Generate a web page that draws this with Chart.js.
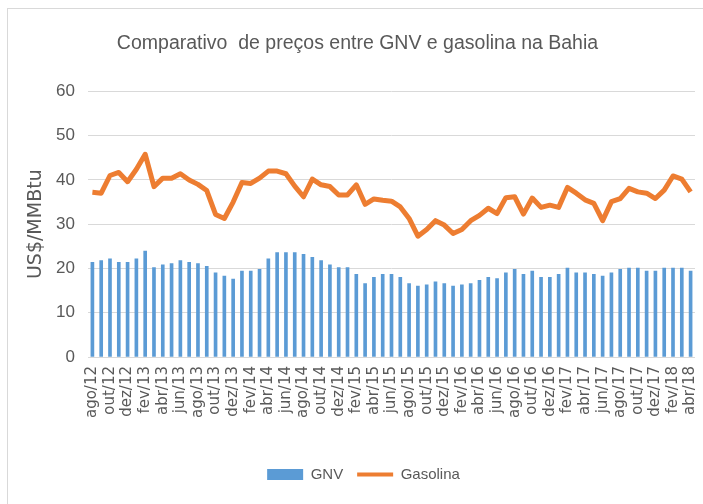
<!DOCTYPE html>
<html>
<head>
<meta charset="utf-8">
<script src="https://cdn.jsdelivr.net/npm/chart.js@4.4.1/dist/chart.umd.min.js"></script>
<style>
  html, body { margin: 0; padding: 0; background: #fff; }
  body { width: 703px; height: 504px; overflow: hidden; position: relative; }
  .moldura { position: absolute; left: 7px; top: 8px; width: 900px; height: 700px; border: 1px solid #d9d9d9; box-sizing: border-box; }
  .grafico { position: absolute; left: 0; top: 0; width: 703px; height: 504px; }
</style>
</head>
<body>
<div class="moldura"></div>
<div class="grafico"><canvas id="precosChart" width="703" height="504"></canvas></div>
<script>
// Preços médios mensais na Bahia, US$/MMBtu (ago/12 a abr/18)
const meses = [
  'ago/12', 'set/12', 'out/12', 'nov/12', 'dez/12',
  'jan/13', 'fev/13', 'mar/13', 'abr/13', 'mai/13', 'jun/13', 'jul/13', 'ago/13', 'set/13', 'out/13', 'nov/13', 'dez/13',
  'jan/14', 'fev/14', 'mar/14', 'abr/14', 'mai/14', 'jun/14', 'jul/14', 'ago/14', 'set/14', 'out/14', 'nov/14', 'dez/14',
  'jan/15', 'fev/15', 'mar/15', 'abr/15', 'mai/15', 'jun/15', 'jul/15', 'ago/15', 'set/15', 'out/15', 'nov/15', 'dez/15',
  'jan/16', 'fev/16', 'mar/16', 'abr/16', 'mai/16', 'jun/16', 'jul/16', 'ago/16', 'set/16', 'out/16', 'nov/16', 'dez/16',
  'jan/17', 'fev/17', 'mar/17', 'abr/17', 'mai/17', 'jun/17', 'jul/17', 'ago/17', 'set/17', 'out/17', 'nov/17', 'dez/17',
  'jan/18', 'fev/18', 'mar/18', 'abr/18'
];

const gnv = [
  21.4, 21.8, 22.2, 21.4, 21.4,
  22.2, 23.9, 20.2, 20.8, 21.1, 21.8, 21.4, 21.1, 20.5, 19.0, 18.3, 17.6,
  19.4, 19.4, 19.8, 22.2, 23.6, 23.6, 23.6, 23.2, 22.5, 21.8, 20.8, 20.2,
  20.2, 18.7, 16.6, 18.0, 18.7, 18.7, 18.0, 16.6, 16.0, 16.3, 17.0, 16.6,
  16.0, 16.3, 16.6, 17.3, 18.0, 17.7, 19.0, 19.8, 18.7, 19.4, 18.0, 18.0,
  18.7, 20.1, 19.0, 19.0, 18.7, 18.3, 19.0, 19.8, 20.1, 20.1, 19.4, 19.4,
  20.1, 20.1, 20.1, 19.4
];

const gasolina = [
  37.2, 37.0, 41.0, 41.7, 39.6,
  42.4, 45.8, 38.5, 40.4, 40.4, 41.4, 40.0, 39.0, 37.6, 32.2, 31.3, 35.0,
  39.4, 39.2, 40.4, 42.0, 42.0, 41.4, 38.6, 36.2, 40.2, 38.9, 38.5, 36.6,
  36.6, 38.9, 34.5, 35.7, 35.4, 35.2, 33.9, 31.3, 27.3, 28.8, 30.8, 29.8,
  27.9, 28.8, 30.8, 32.0, 33.6, 32.4, 36.0, 36.2, 32.3, 35.9, 33.8, 34.3,
  33.8, 38.3, 37.0, 35.5, 34.7, 30.8, 35.1, 35.8, 38.1, 37.3, 37.0, 35.8,
  37.7, 40.9, 40.2, 37.3
];

const eixoY = { min: 0, max: 60, passo: 10 };

const AZUL = '#5b9bd5';
const LARANJA = '#ed7d31';
const CINZA_TEXTO = '#595959';
const CINZA_GRADE = '#d9d9d9';
const SANS = "'Liberation Sans', Arial, sans-serif";
const LARGA = "'DejaVu Sans', sans-serif";

// título e legenda ficam um pouco à direita do centro, como no layout do Excel
const deslocaCaixas = {
  id: 'deslocaCaixas',
  afterLayout(chart) {
    const lg = chart.legend;
    if (lg) { lg.left += 16; lg.right += 16; }
    const tt = chart.titleBlock;
    if (tt) { tt.left += 10; tt.right += 10; }
  },
};

new Chart(document.getElementById('precosChart'), {
  data: {
    labels: meses,
    datasets: [
      {
        type: 'bar',
        label: 'GNV',
        data: gnv,
        backgroundColor: AZUL,
        borderWidth: 0,
        barThickness: 3,
        order: 2,
      },
      {
        type: 'line',
        label: 'Gasolina',
        data: gasolina,
        borderColor: LARANJA,
        backgroundColor: LARANJA,
        borderWidth: 5,
        pointRadius: 0,
        tension: 0,
        borderJoinStyle: 'round',
        order: 1,
      },
    ],
  },
  options: {
    responsive: false,
    animation: false,
    layout: { padding: { left: 0, right: 8, top: 0, bottom: 12 } },
    plugins: {
      title: {
        display: true,
        text: 'Comparativo  de preços entre GNV e gasolina na Bahia',
        color: CINZA_TEXTO,
        font: { family: SANS, size: 19.5, weight: 'normal' },
        padding: { top: 32, bottom: 36 },
      },
      legend: {
        position: 'bottom',
        labels: {
          usePointStyle: true,
          pointStyleWidth: 36,
          boxHeight: 11,
          padding: 14,
          color: CINZA_TEXTO,
          font: { family: SANS, size: 15 },
          generateLabels: chart => chart.data.datasets.map((ds, i) => ({
            text: ds.label,
            fillStyle: ds.backgroundColor,
            strokeStyle: ds.type === 'line' ? ds.borderColor : ds.backgroundColor,
            lineWidth: ds.type === 'line' ? 4 : 0,
            pointStyle: ds.type === 'line' ? 'line' : 'rect',
            fontColor: CINZA_TEXTO,
            datasetIndex: i,
            hidden: false,
          })),
        },
      },
      tooltip: { enabled: false },
    },
    scales: {
      x: {
        grid: { display: false, drawTicks: false },
        border: { display: false },
        ticks: {
          autoSkip: false,
          minRotation: 90,
          maxRotation: 90,
          padding: 9,
          color: CINZA_TEXTO,
          font: { family: LARGA, size: 15 },
          callback: (v, i) => (i % 2 === 0 ? meses[i] : ''),
        },
        afterFit: s => {
          s.height = 96;
          s.paddingLeft = 0;
          s.paddingRight = 0;
        },
      },
      y: {
        min: eixoY.min,
        max: eixoY.max,
        grid: { color: CINZA_GRADE, lineWidth: 1, drawTicks: false },
        border: { display: false },
        ticks: {
          stepSize: eixoY.passo,
          padding: 13,
          color: CINZA_TEXTO,
          font: { family: SANS, size: 17 },
        },
        title: {
          display: true,
          text: 'US$/MMBtu',
          color: CINZA_TEXTO,
          font: { family: LARGA, size: 19 },
          padding: { top: 25, bottom: 0 },
        },
        afterFit: s => { s.width = 88; },
      },
    },
  },
  plugins: [deslocaCaixas],
});
</script>
</body>
</html>
